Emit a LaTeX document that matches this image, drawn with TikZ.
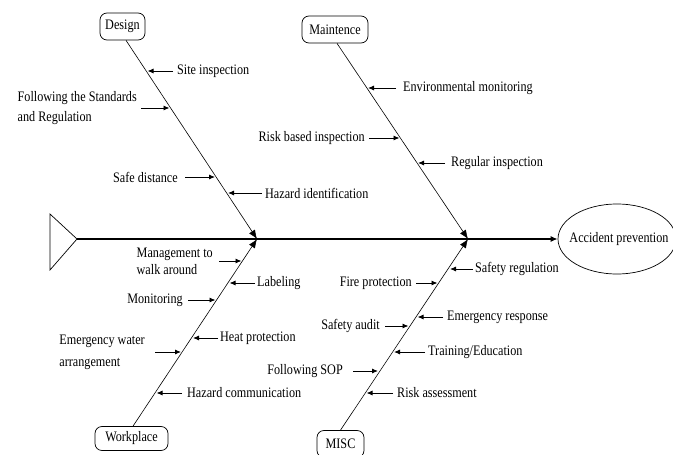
\documentclass[tikz,border=0pt]{standalone}
\usepackage{fontspec}
\setmainfont{Liberation Serif}[FakeStretch=0.84]
\usetikzlibrary{arrows.meta,shapes.geometric}
\begin{document}
\begin{tikzpicture}[x=1pt,y=-1pt,
  every node/.style={font=\fontsize{14.5}{15}\selectfont},
  lbl/.style={inner sep=0pt, align=left},
  catbox/.style={draw, rounded corners=7pt, minimum height=27pt, inner sep=2pt, line width=0.7pt},
  spine/.style={line width=1.4pt, -{Latex[length=7pt,width=6pt]}},
  bone/.style={line width=0.6pt, -{Latex[length=9pt,width=7pt]}},
  sub/.style={line width=0.9pt, -{Latex[length=6pt,width=5pt]}},
]
\useasboundingbox (0,0) rectangle (673,455);

% fish tail and head
\coordinate (tailtop) at (50,214);
\coordinate (tailtip) at (77,239);
\coordinate (tailbot) at (50,270);
\draw[line width=0.7pt] (tailtop) -- (tailtip) -- (tailbot) -- cycle;
\node[draw, ellipse, line width=0.7pt, minimum width=118pt, minimum height=70pt, inner sep=0pt] (head) at (617,239) {};
\node[inner sep=0pt] (headtext) at (619,239) {Accident prevention};

% backbone
\draw[spine] (tailtip) -- (head.west);
\coordinate (j1) at (257,239);
\coordinate (j2) at (468,239);

% category boxes
\node[catbox, minimum width=45pt] (design) at (122.5,26.5) {Design};
\node[catbox, minimum width=66pt] (maint) at (335,29.5) {Maintence};
\node[catbox, minimum width=73pt, minimum height=24pt] (work) at (131.5,438.5) {Workplace};
\node[catbox, minimum width=47pt] (misc) at (340.5,444) {MISC};

% main bones
\draw[bone] ([xshift=3.5pt]design.south) -- (j1);
\draw[bone] ([xshift=2pt]maint.south) -- (j2);
\draw[bone] ([xshift=1.5pt]work.north) -- (j1);
\draw[bone] (misc.north) -- (j2);

% Design causes
\node[lbl, anchor=west] (site) at (177,71) {Site inspection};
\coordinate (site-tip) at (147.5,71);
\draw[sub] ([xshift=-4pt]site.west) -- (site-tip);

\node[lbl, anchor=east] (std) at (137,108) {Following the Standards\\[5pt]and Regulation};
\coordinate (std-tip) at (169.5,108);
\draw[sub] ([xshift=4pt]std.east) -- (std-tip);

\node[lbl, anchor=east] (safe) at (178,177) {Safe distance};
\coordinate (safe-tip) at (215,177);
\draw[sub] ([xshift=7pt]safe.east) -- (safe-tip);

\node[lbl, anchor=west] (hazid) at (265,193) {Hazard identification};
\coordinate (hazid-tip) at (228,193);
\draw[sub] ([xshift=-3pt]hazid.west) -- (hazid-tip);

% Maintence causes
\node[lbl, anchor=west] (env) at (403,88) {Environmental monitoring};
\coordinate (env-tip) at (368,88);
\draw[sub] ([xshift=-7pt]env.west) -- (env-tip);

\node[lbl, anchor=east] (rbi) at (365,138) {Risk based inspection};
\coordinate (rbi-tip) at (399.5,138);
\draw[sub] ([xshift=4pt]rbi.east) -- (rbi-tip);

\node[lbl, anchor=west] (reg) at (451,163) {Regular inspection};
\coordinate (reg-tip) at (418,163);
\draw[sub] ([xshift=-6pt]reg.west) -- (reg-tip);

% Workplace causes
\node[lbl, anchor=east] (mgmt) at (213,261) {Management to\\[2pt]walk around};
\coordinate (mgmt-tip) at (241.5,261);
\draw[sub] ([xshift=6pt]mgmt.east) -- (mgmt-tip);

\node[lbl, anchor=east] (mon) at (183,300) {Monitoring};
\coordinate (mon-tip) at (215.5,300);
\draw[sub] ([xshift=5pt]mon.east) -- (mon-tip);

\node[lbl, anchor=east] (water) at (145,352) {Emergency water\\[7pt]arrangement};
\coordinate (water-tip) at (181,352);
\draw[sub] ([xshift=10pt]water.east) -- (water-tip);

\node[lbl, anchor=west] (label) at (257,283) {Labeling};
\coordinate (label-tip) at (229.5,283);
\draw[sub] ([xshift=-2pt]label.west) -- (label-tip);

\node[lbl, anchor=west] (heat) at (220,338) {Heat protection};
\coordinate (heat-tip) at (193,338);
\draw[sub] ([xshift=-2pt]heat.west) -- (heat-tip);

\node[lbl, anchor=west] (hcom) at (187,393) {Hazard communication};
\coordinate (hcom-tip) at (156.5,393);
\draw[sub] ([xshift=-5pt]hcom.west) -- (hcom-tip);

% MISC causes
\node[lbl, anchor=east] (fire) at (412,283) {Fire protection};
\coordinate (fire-tip) at (437.5,283);
\draw[sub] ([xshift=4pt]fire.east) -- (fire-tip);

\node[lbl, anchor=east] (audit) at (380,326) {Safety audit};
\coordinate (audit-tip) at (408.5,326);
\draw[sub] ([xshift=5pt]audit.east) -- (audit-tip);

\node[lbl, anchor=east] (sop) at (343,371) {Following SOP};
\coordinate (sop-tip) at (378,371);
\draw[sub] ([xshift=10pt]sop.east) -- (sop-tip);

\node[lbl, anchor=west] (sreg) at (475,269) {Safety regulation};
\coordinate (sreg-tip) at (450,269);
\draw[sub] ([xshift=-2pt]sreg.west) -- (sreg-tip);

\node[lbl, anchor=west] (eresp) at (447,317) {Emergency response};
\coordinate (eresp-tip) at (417.5,317);
\draw[sub] ([xshift=-4pt]eresp.west) -- (eresp-tip);

\node[lbl, anchor=west] (train) at (428,352) {Training/Education};
\coordinate (train-tip) at (394,352);
\draw[sub] ([xshift=-3pt]train.west) -- (train-tip);

\node[lbl, anchor=west] (risk) at (397,393) {Risk assessment};
\coordinate (risk-tip) at (366.5,393);
\draw[sub] ([xshift=-4pt]risk.west) -- (risk-tip);
\end{tikzpicture}
\end{document}
